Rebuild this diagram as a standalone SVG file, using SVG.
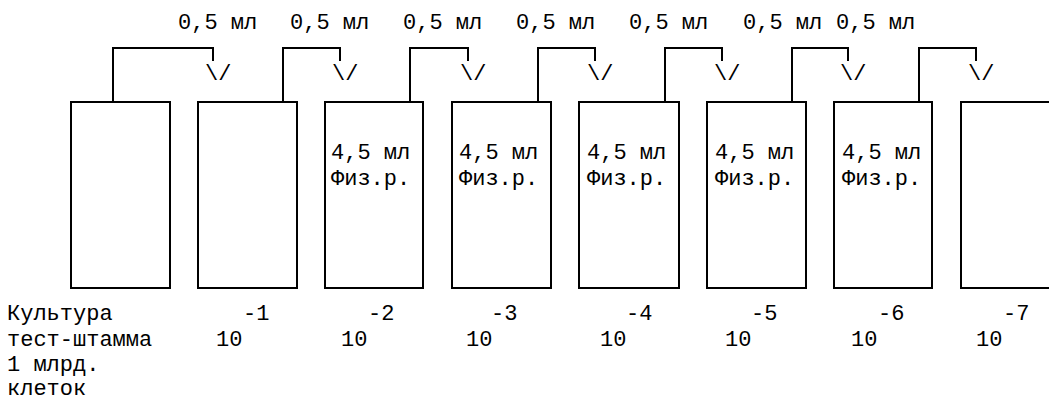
<svg xmlns="http://www.w3.org/2000/svg" width="1049" height="402" viewBox="0 0 1049 402">
<style>
.box{fill:#fff;stroke:#000;stroke-width:2}
.con{fill:none;stroke:#000;stroke-width:2}
text{font-family:"Liberation Mono","Courier New",monospace;font-size:22px;fill:#000}
</style>
<rect width="1049" height="402" fill="#fff"/>
<g id="connectors">
<path class="con" d="M113,102V48H213V61"/>
<path class="con" d="M283,102V48H340V61"/>
<path class="con" d="M410,102V48H468V61"/>
<path class="con" d="M538,102V48H595V61"/>
<path class="con" d="M665,102V48H722V61"/>
<path class="con" d="M792,102V48H848V61"/>
<path class="con" d="M919,102V48H976V61"/>
<text x="205" y="80">\/</text>
<text x="332" y="80">\/</text>
<text x="460" y="80">\/</text>
<text x="587" y="80">\/</text>
<text x="714" y="80">\/</text>
<text x="840" y="80">\/</text>
<text x="968" y="80">\/</text>
</g>
<g id="transfer-labels">
<text x="178" y="29">0,5 мл</text>
<text x="290" y="29">0,5 мл</text>
<text x="403" y="29">0,5 мл</text>
<text x="516" y="29">0,5 мл</text>
<text x="629" y="29">0,5 мл</text>
<text x="743" y="29">0,5 мл</text>
<text x="836" y="29">0,5 мл</text>
</g>
<g id="tube0"><rect class="box" x="71" y="102" width="99" height="186"/></g>
<g id="tube1"><rect class="box" x="198" y="102" width="99" height="186"/></g>
<g id="tube2"><rect class="box" x="325" y="102" width="98" height="186"/><text x="331" y="159">4,5 мл</text><text x="331" y="185">Физ.р.</text></g>
<g id="tube3"><rect class="box" x="452" y="102" width="99" height="186"/><text x="459" y="159">4,5 мл</text><text x="459" y="185">Физ.р.</text></g>
<g id="tube4"><rect class="box" x="579" y="102" width="100" height="186"/><text x="587" y="159">4,5 мл</text><text x="587" y="185">Физ.р.</text></g>
<g id="tube5"><rect class="box" x="707" y="102" width="99" height="186"/><text x="715" y="159">4,5 мл</text><text x="715" y="185">Физ.р.</text></g>
<g id="tube6"><rect class="box" x="834" y="102" width="98" height="186"/><text x="842" y="159">4,5 мл</text><text x="842" y="185">Физ.р.</text></g>
<g id="tube7"><rect class="box" x="961" y="102" width="100" height="186"/></g>
<g id="bottom-labels">
<text x="7" y="320">Культура</text>
<text x="7" y="346">тест-штамма</text>
<text x="7" y="371">1 млрд.</text>
<text x="7" y="395">клеток</text>
<text x="243" y="320">-1</text><text x="216" y="346">10</text>
<text x="368" y="320">-2</text><text x="341" y="346">10</text>
<text x="491" y="320">-3</text><text x="466" y="346">10</text>
<text x="626" y="320">-4</text><text x="600" y="346">10</text>
<text x="751" y="320">-5</text><text x="725" y="346">10</text>
<text x="878" y="320">-6</text><text x="851" y="346">10</text>
<text x="1003" y="320">-7</text><text x="976" y="346">10</text>
</g>
</svg>
